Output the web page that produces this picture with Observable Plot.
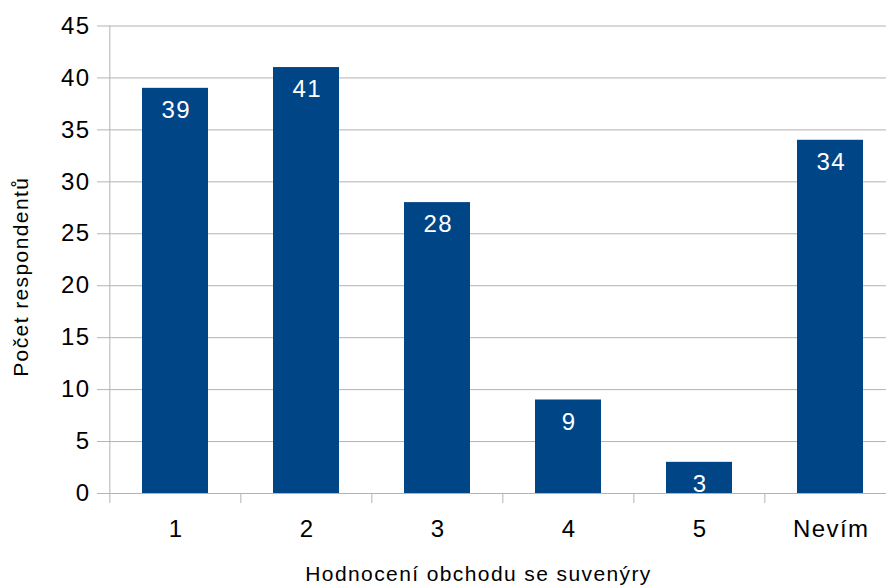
<!DOCTYPE html>
<html>
<head>
<meta charset="utf-8">
<script src="https://cdn.jsdelivr.net/npm/d3@7"></script>
<script src="https://cdn.jsdelivr.net/npm/@observablehq/plot@0.6"></script>
<style>
  html, body { margin: 0; padding: 0; background: #fff; overflow: hidden; }
  #chart svg { font-family: "Liberation Sans", Arial, sans-serif; letter-spacing: 1.4px; }
</style>
</head>
<body>
<div id="chart"></div>
<script>
// Hodnocení obchodu se suvenýry – počet respondentů
const categories = ["1", "2", "3", "4", "5", "Nevím"];
const counts = [39, 41, 28, 9, 3, 34];
const yTicks = [0, 5, 10, 15, 20, 25, 30, 35, 40, 45];

const xTitle = "Hodnocení obchodu se suvenýry";
const yTitle = "Počet respondentů";

const data = categories.map((c, i) => ({category: c, count: counts[i]}));

const chartW = 886, chartH = 585;
const mLeft = 108, mRight = -10, mTop = 25.5, mBottom = 92;
const step = (chartW - mRight - mLeft) / categories.length;

const barColor = "#004586";
const gridColor = "#b3b3b3";

const chart = Plot.plot({
  width: chartW,
  height: chartH,
  marginLeft: mLeft,
  marginRight: mRight,
  marginTop: mTop,
  marginBottom: mBottom,
  style: {fontFamily: "'Liberation Sans', Arial, sans-serif", background: "#fff", letterSpacing: "1.4px"},
  x: {type: "band", domain: categories, paddingInner: 0.5, paddingOuter: 0.25},
  y: {domain: [0, 45], ticks: yTicks},
  marks: [
    Plot.gridY(yTicks, {stroke: gridColor, strokeOpacity: 1, strokeWidth: 1}),
    Plot.barY(data, {x: "category", y: "count", fill: barColor}),
    // vertical axis line with the tick below the first category
    Plot.ruleX([categories[0]], {dx: -step / 2, y1: 45, y2: 0, insetBottom: -10, stroke: gridColor}),
    // category separators below the baseline
    Plot.ruleX(categories.slice(1), {dx: -step / 2, y1: 0, y2: 0, insetBottom: -10, stroke: gridColor}),
    Plot.axisY(yTicks, {
      tickSize: 11, tickPadding: 7, stroke: gridColor, fill: "#000",
      fontSize: 24, label: null
    }),
    Plot.axisX({
      tickSize: 0, tickPadding: 26, fill: "#000", fontSize: 24, label: null, dx: 0.7
    }),
    Plot.text(data, {
      x: "category", y: "count", text: d => String(d.count),
      dx: 0.7, dy: 22, fill: "#fff", fontSize: 24, lineAnchor: "middle"
    }),
    Plot.text([yTitle], {
      frameAnchor: "left", dx: -87, dy: 17, rotate: -90,
      fontSize: 21, fill: "#000", lineAnchor: "middle", textAnchor: "middle"
    }),
    Plot.text([xTitle], {
      frameAnchor: "bottom", dx: -24, dy: 81,
      fontSize: 21, fill: "#000", lineAnchor: "middle", textAnchor: "middle"
    })
  ]
});

document.getElementById("chart").appendChild(chart);
</script>
</body>
</html>
